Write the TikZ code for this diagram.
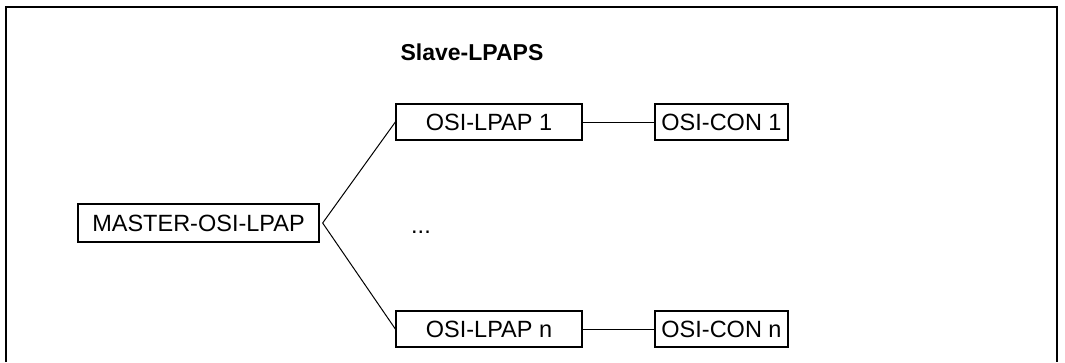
\documentclass[tikz,border=0pt]{standalone}
\usepackage{fontspec}
\setmainfont{Liberation Sans}
\begin{document}
\begin{tikzpicture}[x=1pt,y=-1pt,
  box/.style={draw,line width=1.3pt,inner sep=0pt,font=\fontsize{23.5}{26}\selectfont,minimum height=36pt},
  conn/.style={line width=1pt},
  lbl/.style={inner sep=0pt,font=\fontsize{23.5}{26}\selectfont}]
\useasboundingbox (0,0) rectangle (1065,362);
\draw[line width=2pt] (6,362) -- (6,7) -- (1057,7) -- (1057,362);
\node[lbl,font=\fontsize{23}{26}\selectfont\bfseries] (title) at (472,52) {Slave-LPAPS};
\node[box,minimum width=241pt,minimum height=38pt] (master) at (198.5,223) {MASTER-OSI-LPAP};
\node[box,minimum width=186pt] (l1) at (489,122) {OSI-LPAP 1};
\node[box,minimum width=133pt] (c1) at (721.5,122) {OSI-CON 1};
\node[box,minimum width=186pt] (ln) at (489,329) {OSI-LPAP n};
\node[box,minimum width=133pt] (cn) at (721.5,329) {OSI-CON n};
\node[lbl,anchor=base west] (dots) at (411,233) {...};
\draw[conn] ([xshift=3pt]master.east) -- (l1.west);
\draw[conn] ([xshift=3pt]master.east) -- (ln.west);
\draw[conn] (l1.east) -- (c1.west);
\draw[conn] (ln.east) -- (cn.west);
\end{tikzpicture}
\end{document}
